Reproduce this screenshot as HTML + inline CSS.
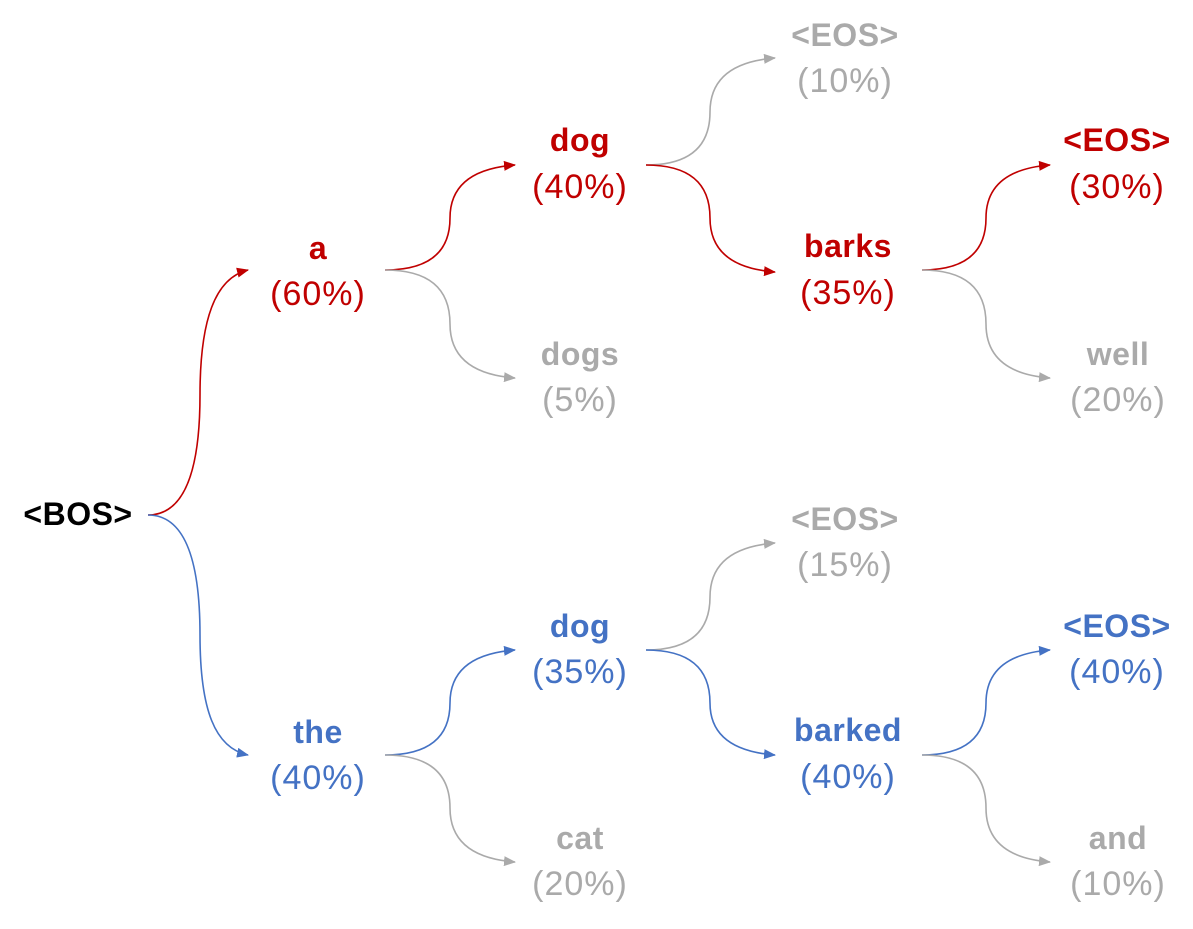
<!DOCTYPE html>
<html><head><meta charset="utf-8"><style>
html,body{margin:0;padding:0;background:#fff;}
svg{display:block;}
text{font-family:"Liberation Sans",sans-serif;font-size:34px;text-anchor:middle;letter-spacing:1px;}
.w{font-weight:bold;font-size:32px;letter-spacing:0.5px;}
.r{fill:#c00000}.b{fill:#4472c4}.g{fill:#aaaaaa}.k{fill:#000}
path.c{fill:none;stroke-width:1.6}
</style></head><body>
<svg width="1193" height="929" viewBox="0 0 1193 929">
<defs>
<marker id="mr" markerWidth="12" markerHeight="10" refX="11" refY="5" orient="auto" markerUnits="userSpaceOnUse"><polygon points="0,0 12,5 0,10" fill="#c00000"/></marker>
<marker id="mb" markerWidth="12" markerHeight="10" refX="11" refY="5" orient="auto" markerUnits="userSpaceOnUse"><polygon points="0,0 12,5 0,10" fill="#4472c4"/></marker>
<marker id="mg" markerWidth="12" markerHeight="10" refX="11" refY="5" orient="auto" markerUnits="userSpaceOnUse"><polygon points="0,0 12,5 0,10" fill="#aaaaaa"/></marker>
</defs>
<path class="c" d="M148,515 C185,515 200,470 200,395 C200,320 215,278 248,270" stroke="#c00000" marker-end="url(#mr)"/>
<path class="c" d="M148,515 C185,515 200,560 200,635 C200,710 215,748 248,755" stroke="#4472c4" marker-end="url(#mb)"/>
<path class="c" d="M385,270 Q450,270 450,218 Q450,170 515,165" stroke="#c00000" marker-end="url(#mr)"/>
<path class="c" d="M385,270 Q450,270 450,324 Q450,373 515,378" stroke="#aaaaaa" marker-end="url(#mg)"/>
<path class="c" d="M646,165 Q710,165 710,112 Q710,63 775,58" stroke="#aaaaaa" marker-end="url(#mg)"/>
<path class="c" d="M646,165 Q710,165 710,218 Q710,267 775,272" stroke="#c00000" marker-end="url(#mr)"/>
<path class="c" d="M922,270 Q986,270 986,218 Q986,170 1050,165" stroke="#c00000" marker-end="url(#mr)"/>
<path class="c" d="M922,270 Q986,270 986,324 Q986,373 1050,378" stroke="#aaaaaa" marker-end="url(#mg)"/>
<path class="c" d="M385,755 Q450,755 450,703 Q450,655 515,650" stroke="#4472c4" marker-end="url(#mb)"/>
<path class="c" d="M385,755 Q450,755 450,808 Q450,857 515,862" stroke="#aaaaaa" marker-end="url(#mg)"/>
<path class="c" d="M646,650 Q710,650 710,597 Q710,548 775,543" stroke="#aaaaaa" marker-end="url(#mg)"/>
<path class="c" d="M646,650 Q710,650 710,703 Q710,750 775,755" stroke="#4472c4" marker-end="url(#mb)"/>
<path class="c" d="M922,755 Q986,755 986,703 Q986,655 1050,650" stroke="#4472c4" marker-end="url(#mb)"/>
<path class="c" d="M922,755 Q986,755 986,808 Q986,857 1050,862" stroke="#aaaaaa" marker-end="url(#mg)"/>
<text x="78" y="525" class="w k">&lt;BOS&gt;</text>
<text x="318" y="259" class="w r">a</text><text x="318" y="305" class="r">(60%)</text>
<text x="318" y="743" class="w b">the</text><text x="318" y="789" class="b">(40%)</text>
<text x="580" y="151" class="w r">dog</text><text x="580" y="198" class="r">(40%)</text>
<text x="580" y="365" class="w g">dogs</text><text x="580" y="411" class="g">(5%)</text>
<text x="845" y="46" class="w g">&lt;EOS&gt;</text><text x="845" y="92" class="g">(10%)</text>
<text x="848" y="257" class="w r">barks</text><text x="848" y="304" class="r">(35%)</text>
<text x="1117" y="151" class="w r">&lt;EOS&gt;</text><text x="1117" y="198" class="r">(30%)</text>
<text x="1118" y="365" class="w g">well</text><text x="1118" y="411" class="g">(20%)</text>
<text x="845" y="530" class="w g">&lt;EOS&gt;</text><text x="845" y="576" class="g">(15%)</text>
<text x="580" y="637" class="w b">dog</text><text x="580" y="683" class="b">(35%)</text>
<text x="848" y="741" class="w b">barked</text><text x="848" y="788" class="b">(40%)</text>
<text x="1117" y="637" class="w b">&lt;EOS&gt;</text><text x="1117" y="683" class="b">(40%)</text>
<text x="1118" y="849" class="w g">and</text><text x="1118" y="895" class="g">(10%)</text>
<text x="580" y="849" class="w g">cat</text><text x="580" y="895" class="g">(20%)</text>
</svg>
</body></html>
